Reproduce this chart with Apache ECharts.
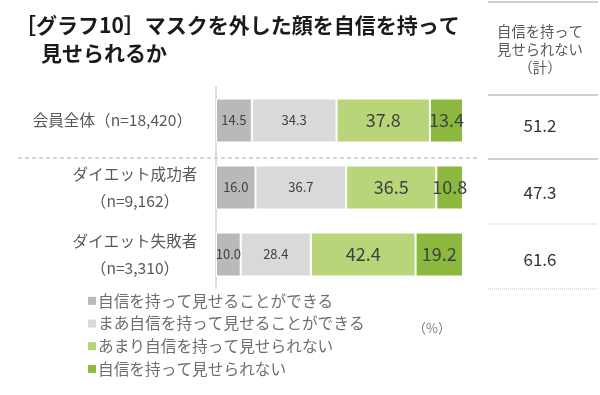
<!DOCTYPE html>
<html><head><meta charset="utf-8">
<script src="https://cdn.jsdelivr.net/npm/echarts@6/dist/echarts.min.js"></script>
<style>html,body{margin:0;padding:0;background:#fff}#c{width:600px;height:395px}</style>
</head><body><div id="c"></div>
<script>
const titleLines = ['［グラフ10］マスクを外した顔を自信を持って', '見せられるか'];
const categories = ['会員全体（n=18,420）', 'ダイエット成功者\n（n=9,162）', 'ダイエット失敗者\n（n=3,310）'];
const seriesNames = ['自信を持って見せることができる', 'まあ自信を持って見せることができる', 'あまり自信を持って見せられない', '自信を持って見せられない'];
const confident = [14.5, 16.0, 10.0];
const somewhatConfident = [34.3, 36.7, 28.4];
const notVeryConfident = [37.8, 36.5, 42.4];
const notConfident = [13.4, 10.8, 19.2];
const totalHeader = ['自信を持って', '見せられない', '（計）'];
const unitLabel = '（%）';

const colors = ['#b9b9b9', '#d9d9d9', '#b9d57a', '#8db83f'];
const labelSizes = [13, 13, 18, 18];
const FONT = '"Noto Sans CJK JP", "Noto Sans", sans-serif';
const seriesData = [confident, somewhatConfident, notVeryConfident, notConfident];
const totals = notVeryConfident.map((v, i) => (v + notConfident[i]).toFixed(1));

const chart = echarts.init(document.getElementById('c'));
const titleStyle = { fontSize: 21, fontWeight: 'bold', color: '#1a1a1a', lineHeight: 28, fontFamily: FONT };
const option = {
  backgroundColor: '#fff',
  animation: false,
  textStyle: { fontFamily: FONT },
  title: [
    { text: titleLines[0], left: 15, top: 11, padding: 0, textStyle: titleStyle },
    { text: titleLines[1], left: 41, top: 39, padding: 0, textStyle: titleStyle }
  ],
  legend: {
    orient: 'vertical', left: 83, top: 288,
    itemWidth: 8, itemHeight: 8, itemGap: 7,
    icon: 'rect',
    data: seriesNames,
    itemStyle: { borderWidth: 0 },
    textStyle: { fontSize: 15.7, color: '#6e6e6e', fontFamily: FONT, padding: [0, 0, 0, -3] }
  },
  grid: { left: 216, right: 137, top: 87, height: 201 },
  xAxis: { type: 'value', min: 0, max: 100, show: false },
  yAxis: [{
    type: 'category', inverse: true, data: categories,
    axisLine: { lineStyle: { color: '#cfcfcf', width: 1.5 } },
    axisTick: { length: 4, lineStyle: { color: '#cfcfcf' } },
    axisLabel: {
      margin: 18,
      formatter: (v, i) => {
        const parts = v.split('\n');
        if (parts.length === 1) return '{a|' + v + '}';
        return parts.map(p => '{b|' + p + '}').join('\n');
      },
      rich: {
        a: { fontSize: 15.6, color: '#595959', fontFamily: FONT, padding: [0, 6, 0, 0] },
        b: { fontSize: 15.6, color: '#595959', fontFamily: FONT, width: 126, align: 'center', lineHeight: 27 }
      }
    }
  }, {
    type: 'category', inverse: true, data: categories, position: 'left',
    axisLine: { show: false },
    axisTick: { inside: true, length: 4, lineStyle: { color: '#cfcfcf' } },
    axisLabel: { show: false }
  }],
  series: seriesNames.map((name, k) => ({
    name, type: 'bar', stack: 'all', barWidth: 44,
    data: seriesData[k],
    itemStyle: { color: colors[k], borderColor: '#fff', borderWidth: 1 },
    label: {
      show: true, position: 'inside',
      formatter: p => p.value.toFixed(1),
      fontSize: labelSizes[k], color: '#404040', fontFamily: FONT
    }
  }))
};
chart.setOption(option);

// Decorations and totals column
const ys = categories.map(c => chart.convertToPixel({ yAxisIndex: 0 }, c));
const band = ys.length > 1 ? ys[1] - ys[0] : 67;
const colX = 540;
const g = [];
g.push({ type: 'line', shape: { x1: 18, y1: 158, x2: 477, y2: 158 }, style: { stroke: '#a8a8a8', lineWidth: 1, lineDash: [4, 3] } });
g.push({ type: 'line', shape: { x1: 488, y1: 2, x2: 598, y2: 2 }, style: { stroke: '#bfbfbf', lineWidth: 1.5 } });
totalHeader.forEach((t, i) => {
  g.push({ type: 'text', x: colX, y: 32 + i * 18, style: { text: t, fill: '#595959', font: '14.3px ' + FONT, textAlign: 'center', textVerticalAlign: 'middle' } });
});
const lineYs = [95, 159, 224, 289];
const lineDash = [null, null, [1, 1], [1, 1]];
lineYs.forEach((y, i) => {
  g.push({ type: 'line', shape: { x1: 488, y1: y, x2: 598, y2: y }, style: { stroke: i < 2 ? '#bfbfbf' : '#c8c8c8', lineWidth: i < 2 ? 1.5 : 1, lineDash: lineDash[i] } });
});
totals.forEach((t, i) => {
  g.push({ type: 'text', x: colX, y: ys[i] + band * 0.07, style: { text: t, fill: '#333', font: '17px ' + FONT, textAlign: 'center', textVerticalAlign: 'middle' } });
});
g.push({ type: 'text', x: 432, y: 328, style: { text: unitLabel, fill: '#7a7a7a', font: '13px ' + FONT, textAlign: 'center', textVerticalAlign: 'middle' } });
chart.setOption({ graphic: g });
</script>
</body></html>
